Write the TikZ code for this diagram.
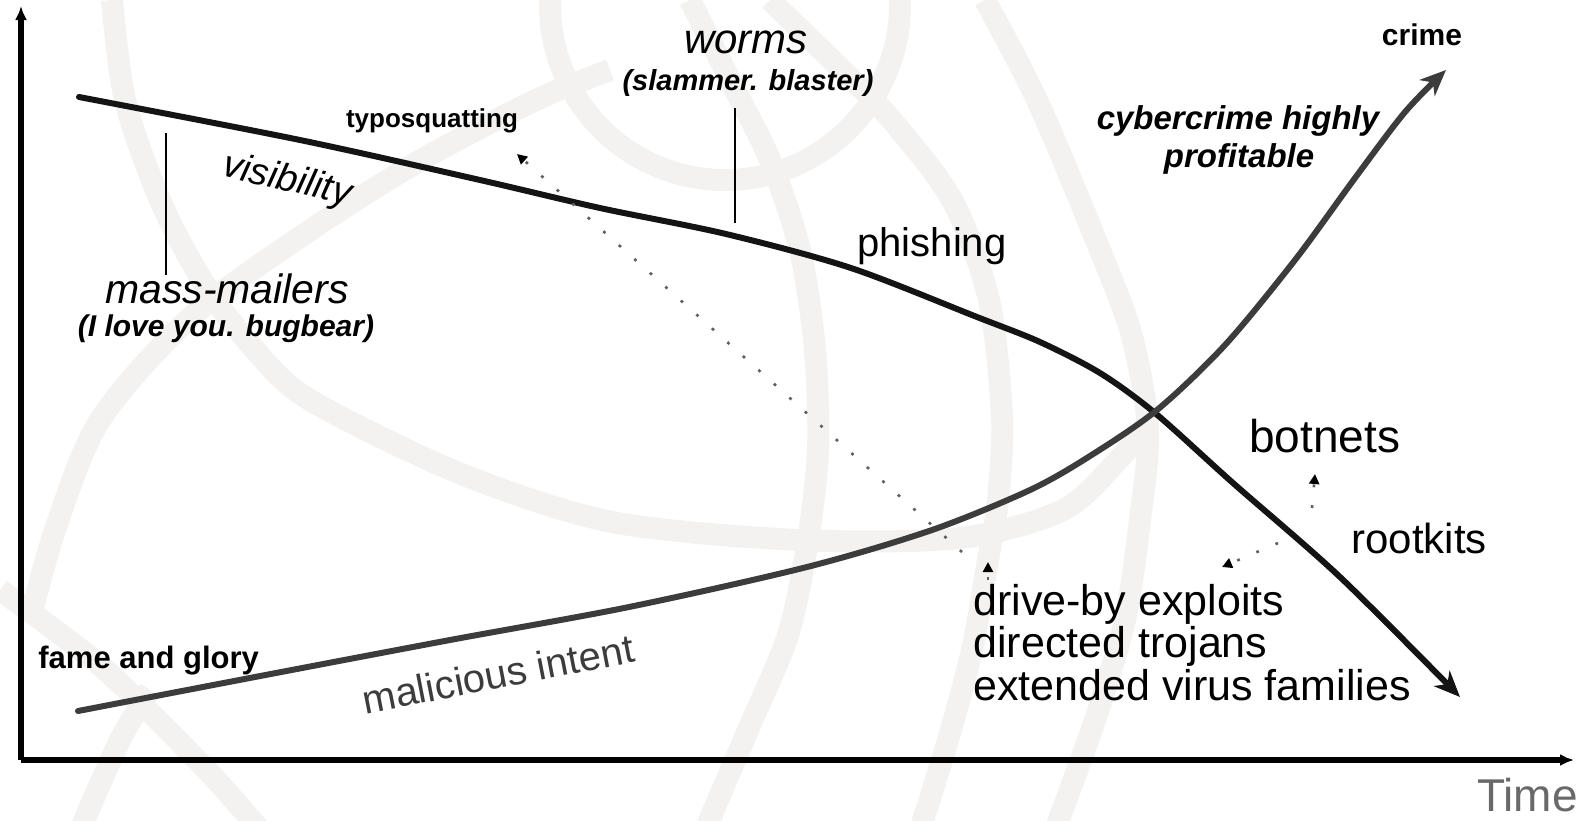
\documentclass[tikz,border=0pt]{standalone}
\usepackage{fontspec}
\setmainfont{Liberation Sans}
\usetikzlibrary{arrows.meta}
\definecolor{wm}{RGB}{243,242,240}
\definecolor{intent}{RGB}{60,60,60}
\definecolor{dotgray}{RGB}{95,95,95}
\definecolor{timegray}{RGB}{105,105,105}
\begin{document}
\begin{tikzpicture}[x=0.5pt,y=-0.5pt,
  wmband/.style={draw=wm, line width=11pt},
  axis/.style={line width=2.6pt, -{Latex[length=7pt,width=6pt]}},
  trend/.style={line width=3pt, line cap=round},
  tickline/.style={line width=1pt},
  hint/.style={dotgray, line width=1.3pt, dash pattern=on 1.4pt off 9pt,
    -{Triangle[length=5pt,width=5pt,color=black]}},
  lbl/.style={inner sep=0pt, anchor=base},
]
\useasboundingbox (0,0) rectangle (1585,820);

% faint watermark of overlapping rings
\draw[wmband] (725,5) circle[radius=175];
\draw[wmband] plot[smooth] coordinates {(690,0) (730,80) (770,160) (800,250) (815,350) (818,450) (808,540) (788,635) (748,730) (705,830)};
\draw[wmband] plot[smooth] coordinates {(770,0) (839,67) (889,117) (952,200) (989,300) (1002,417) (998,500) (988,560) (972,650) (948,740) (920,830)};
\draw[wmband] plot[smooth] coordinates {(985,0) (1037,100) (1093,233) (1131,333) (1148,430) (1140,520) (1125,620) (1095,720) (1055,830)};
\draw[wmband] plot[smooth] coordinates {(112,0) (125,100) (160,200) (205,285) (255,350) (310,400) (459,473) (612,522) (800,540) (960,538) (1063,510) (1118,460) (1150,420)};
\draw[wmband] plot[smooth] coordinates {(30,620) (55,530) (100,420) (191,317) (306,233) (421,160) (536,100) (610,70)};
\draw[wmband] plot[smooth] coordinates {(0,590) (102,667) (204,767) (260,830)};
\draw[wmband] plot[smooth] coordinates {(80,830) (120,740) (150,690)};

% axes
\coordinate (origin) at (21,760);
\coordinate (ytop) at (21,6);
\coordinate (xend) at (1574,760);
\draw[axis] (origin) -- (ytop);
\draw[axis] (origin) -- (xend);

% visibility trend
\draw[trend, black!92, -{Stealth[length=13pt,width=11pt,inset=4pt]}]
  plot[smooth, tension=0.5] coordinates {(79,97) (300,140) (480,180) (600,208) (726,234) (851,268) (977,317) (1040,342) (1100,373) (1155,413) (1233,483) (1340,577) (1460,697)};

% malicious intent trend
\draw[trend, intent, -{Stealth[length=13pt,width=11pt,inset=4pt]}]
  plot[smooth, tension=0.5] coordinates {(78,711) (255,677) (450,640) (629,607) (807,567) (932,530) (1030,490) (1090,456) (1157,410) (1225,345) (1295,260) (1355,178) (1405,112) (1446,70)};

% labels
\node[lbl, font=\bfseries\fontsize{15pt}{15pt}\selectfont] (crime) at (1422,45) {crime};
\node[lbl, font=\bfseries\itshape\fontsize{16.5pt}{19.5pt}\selectfont] (cyber) at (1238,129) {cybercrime highly};
\node[lbl, font=\bfseries\itshape\fontsize{16.5pt}{19.5pt}\selectfont] (profit) at (1239,167) {profitable};
\node[lbl, font=\itshape\fontsize{21pt}{21pt}\selectfont] (worms) at (746,53) {worms};
\node[lbl, font=\bfseries\itshape\fontsize{14.5pt}{14.5pt}\selectfont] (wormsex) at (748,90) {(slammer. blaster)};
\node[lbl, font=\bfseries\fontsize{13pt}{13pt}\selectfont] (typo) at (432,127) {typosquatting};
\node[inner sep=0pt, rotate=-13, font=\itshape\fontsize{19pt}{19pt}\selectfont] (vis) at (287,181) {visibility};
\node[lbl, font=\itshape\fontsize{20.5pt}{20.5pt}\selectfont] (mass) at (227,303) {mass-mailers};
\node[lbl, font=\bfseries\itshape\fontsize{15pt}{15pt}\selectfont] (massex) at (226,336) {(I love you. bugbear)};
\node[inner sep=0pt, anchor=base west, font=\fontsize{20pt}{20pt}\selectfont] (phish) at (857,256) {phishing};
\node[inner sep=0pt, anchor=base west, font=\fontsize{23pt}{23pt}\selectfont] (bot) at (1249,452) {botnets};
\node[inner sep=0pt, anchor=base west, font=\fontsize{21pt}{21pt}\selectfont] (root) at (1351,553) {rootkits};
\node[inner sep=0pt, anchor=base west, font=\fontsize{21.5pt}{21.5pt}\selectfont] (drive) at (973,615) {drive-by exploits};
\node[inner sep=0pt, anchor=base west, font=\fontsize{21.5pt}{21.5pt}\selectfont] (troj) at (973,657) {directed trojans};
\node[inner sep=0pt, anchor=base west, font=\fontsize{21.5pt}{21.5pt}\selectfont] (virus) at (973,700) {extended virus families};
\node[inner sep=0pt, anchor=base west, font=\bfseries\fontsize{15.5pt}{15.5pt}\selectfont] (fame) at (38,668) {fame and glory};
\node[inner sep=0pt, rotate=11, text=intent, font=\fontsize{20pt}{20pt}\selectfont] (mal) at (498,674) {malicious intent};
\node[inner sep=0pt, anchor=base east, text=timegray, font=\fontsize{23pt}{23pt}\selectfont] (time) at (1578,811) {Time};

% pointer lines for the named outbreaks
\coordinate (mmtop) at (166,133);
\coordinate (mmbot) at (166,275);
\draw[tickline] (mmtop) -- (mmbot);
\coordinate (wmtop) at (735,108);
\coordinate (wmbot) at (735,223);
\draw[tickline] (wmtop) -- (wmbot);

% dotted hints
\coordinate (typofrom) at (962,552);
\coordinate (typoto) at (517,154);
\draw[hint] (typofrom) -- (typoto);
\coordinate (dbfrom) at (988,580);
\coordinate (dbto) at (988,562);
\draw[hint] (dbfrom) -- (dbto);
\coordinate (trfrom) at (1278,543);
\coordinate (trto) at (1222,567);
\draw[hint] (trfrom) -- (trto);
\coordinate (btfrom) at (1312,508);
\coordinate (btto) at (1315,474);
\draw[hint] (btfrom) -- (btto);
\end{tikzpicture}
\end{document}
